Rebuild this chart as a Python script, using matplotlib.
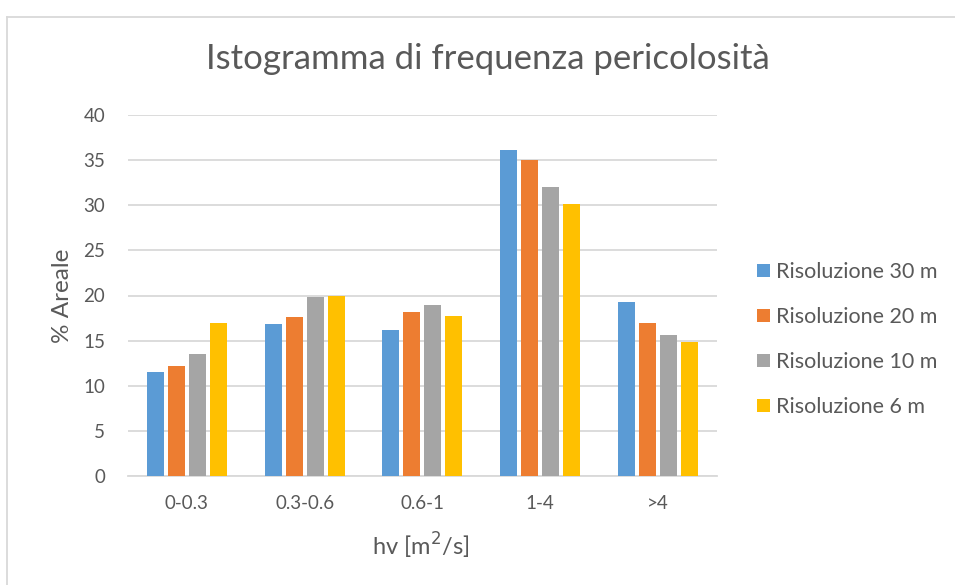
import matplotlib
matplotlib.use("Agg")
import matplotlib.pyplot as plt
import numpy as np
from matplotlib.lines import Line2D

categories = ["0-0.3", "0.3-0.6", "0.6-1", "1-4", ">4"]
series_names = ["Risoluzione 30 m", "Risoluzione 20 m", "Risoluzione 10 m", "Risoluzione 6 m"]
ris_30 = [11.5, 16.8, 16.2, 36.1, 19.3]
ris_20 = [12.2, 17.6, 18.2, 35.0, 17.0]
ris_10 = [13.5, 19.8, 18.9, 32.0, 15.6]
ris_6 = [17.0, 20.0, 17.7, 30.1, 14.8]
y_ticks = [0, 5, 10, 15, 20, 25, 30, 35, 40]

colors = ["#5B9BD5", "#ED7D31", "#A5A5A5", "#FFC000"]
text_col = "#595959"
font = "Lato"

W, H = 955, 585
fig = plt.figure(figsize=(W / 100, H / 100), dpi=100)
ax_l, ax_r, ax_t, ax_b = 128, 716.7, 115, 476
ax = fig.add_axes([ax_l / W, 1 - ax_b / H, (ax_r - ax_l) / W, (ax_b - ax_t) / H])

x = np.arange(len(categories))
step = 0.178
width = 0.145
all_series = [ris_30, ris_20, ris_10, ris_6]
handles = []
for i, (vals, col, name) in enumerate(zip(all_series, colors, series_names)):
    offs = (i - 1.5) * step
    b = ax.bar(x + offs, vals, width=width, color=col, label=name, zorder=3)
    handles.append(b)

ax.set_xlim(-0.5, len(categories) - 0.5)
ax.set_ylim(0, 40)
ax.set_yticks(y_ticks)
ax.set_xticks(x)
ax.set_xticklabels(categories)
ax.yaxis.grid(True, color="#D9D9D9", linewidth=1.3, zorder=0)
ax.set_axisbelow(True)
for s in ["top", "right", "left"]:
    ax.spines[s].set_visible(False)
ax.spines["bottom"].set_color("#D9D9D9")
ax.spines["bottom"].set_linewidth(1.3)
ax.tick_params(axis="both", length=0, colors=text_col, labelsize=13.5)
ax.tick_params(axis="y", pad=16.5)
ax.tick_params(axis="x", pad=14)
for lab in ax.get_xticklabels() + ax.get_yticklabels():
    lab.set_fontfamily(font)

ax.set_ylabel("% Areale", fontsize=17.5, color=text_col, fontfamily=font)
ax.set_xlabel("hv [m$^2$/s]", fontsize=17, color=text_col, fontfamily=font)
ax.yaxis.label.set_va("center")
ax.xaxis.label.set_va("center")
ax.yaxis.set_label_coords((62 - ax_l) / (ax_r - ax_l), 0.5)
ax.xaxis.set_label_coords(0.5 - 2 / (ax_r - ax_l), (ax_b - 546) / (ax_b - ax_t))

fig.text((207 + 768) / 2 / W, 1 - 69 / H, "Istogramma di frequenza pericolosità",
         ha="center", va="baseline", fontsize=25, color=text_col, fontfamily=font)

leg = fig.legend(handles=handles, labels=series_names, loc="center left",
                 bbox_to_anchor=(757 / W, 1 - 339.5 / H), frameon=False,
                 prop={"family": font, "size": 15.5}, labelcolor=text_col,
                 handlelength=0.6, handleheight=0.6, handletextpad=0.3,
                 labelspacing=1.16, borderpad=0, borderaxespad=0)

# chart area frame (top and left edges)
fig.add_artist(Line2D([7 / W, 1.0], [1 - 16.5 / H] * 2, color="#D9D9D9", linewidth=1.3))
fig.add_artist(Line2D([7 / W] * 2, [0, 1 - 16.5 / H], color="#D9D9D9", linewidth=1.3))

fig.savefig("out.png", dpi=100, facecolor="white")
